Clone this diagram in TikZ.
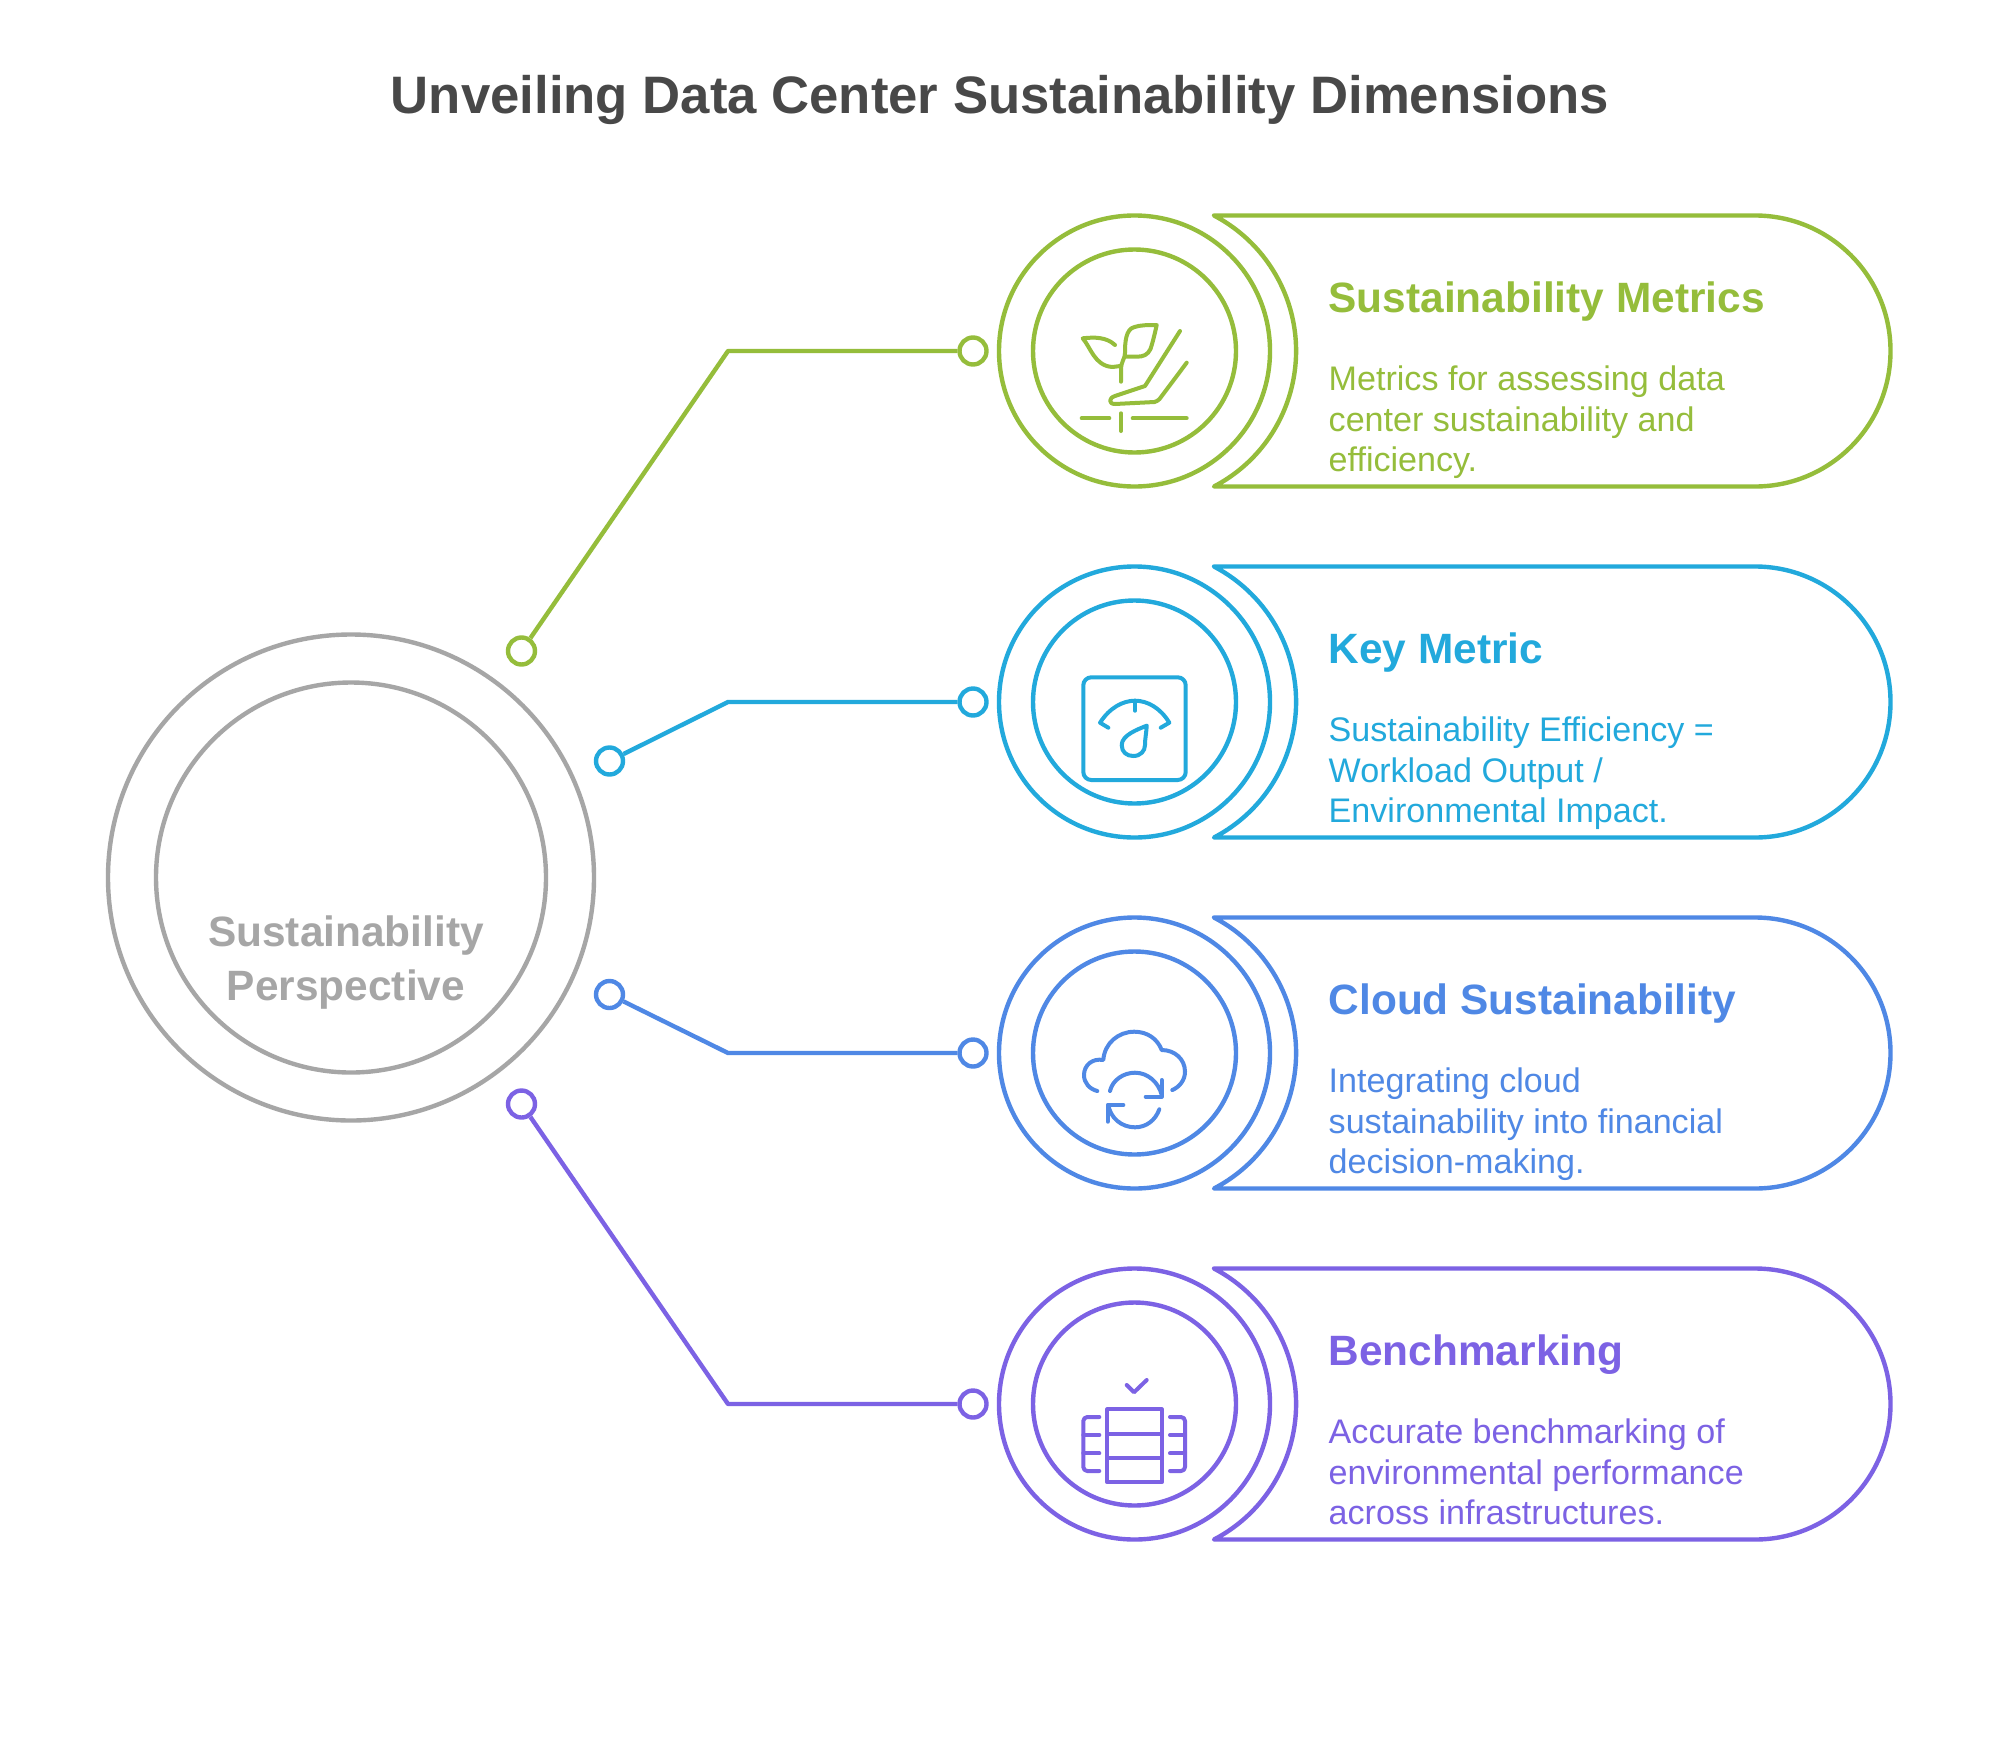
\documentclass[tikz,border=0pt]{standalone}
\usepackage{fontspec}
\setmainfont{Liberation Sans}
\definecolor{cgreen}{HTML}{95BD3B}
\definecolor{cblue}{HTML}{22A9DC}
\definecolor{cmid}{HTML}{4F88E5}
\definecolor{cpurple}{HTML}{7C62E4}
\definecolor{cgray}{HTML}{A6A6A6}
\definecolor{ctitle}{HTML}{484848}
\tikzset{
  ln/.style={line width=4.4pt,line cap=round,line join=round},
  dot/.style={circle,draw,fill=white,line width=4.4pt,minimum size=27pt,inner sep=0pt},
  outerc/.style={circle,draw,line width=4.4pt,minimum size=271pt,inner sep=0pt},
  innerc/.style={circle,draw,line width=4.4pt,minimum size=203pt,inner sep=0pt},
  head/.style={anchor=base west,inner sep=0pt,font=\fontsize{42.4}{43}\selectfont\bfseries},
  body/.style={anchor=base west,inner sep=0pt,font=\fontsize{34.1}{40}\selectfont,align=left},
  icon/.style={line width=4pt,line cap=round,line join=round}
}
\newcommand{\banner}[2]{%
  \draw[ln,#1] (1214,#2-135.5) -- (1755,#2-135.5) arc[start angle=-90,end angle=90,radius=135.5] -- (1214,#2+135.5)
     arc[start angle=62.4,end angle=-62.4,radius=152.9] -- cycle;}
\begin{document}
\begin{tikzpicture}[x=1pt,y=-1pt]
\useasboundingbox (0,0) rectangle (1999,1756);
\fill[white] (0,0) rectangle (1999,1756);
\node[anchor=base,inner sep=0pt,text=ctitle,font=\fontsize{52.7}{54}\selectfont\bfseries] (title) at (1000,113) {Unveiling Data Center Sustainability Dimensions};
% hub
\node[circle,draw=cgray,line width=4.4pt,minimum size=486pt,inner sep=0pt] (hubo) at (351,877.5) {};
\node[circle,draw=cgray,line width=4.4pt,minimum size=390pt,inner sep=0pt] (hubi) at (351,877.5) {};
\node[anchor=base,inner sep=0pt,text=cgray,font=\fontsize{42.4}{43}\selectfont\bfseries] (hub1) at (346,946) {Sustainability};
\node[anchor=base,inner sep=0pt,text=cgray,font=\fontsize{42.4}{43}\selectfont\bfseries] (hub2) at (346,1000) {Perspective};
% rows
\foreach \c/\y/\dx/\dy [count=\i] in {cgreen/351/521.5/651,cblue/702/609.5/761,cmid/1053/609.5/994.5,cpurple/1404/521.5/1104}{
  \banner{\c}{\y}
  \node[outerc,draw=\c] (o\i) at (1134.5,\y) {};
  \node[innerc,draw=\c] (n\i) at (1134.5,\y) {};
  \node[dot,draw=\c] (d\i) at (\dx,\dy) {};
  \node[dot,draw=\c] (e\i) at (973,\y) {};
  \coordinate (k\i) at (728,\y);
  \draw[ln,\c,line cap=butt] (d\i) -- (k\i) -- (e\i);
}
% texts
\node[head,text=cgreen] (h1) at (1328.5,312) {Sustainability Metrics};
\node[body,text=cgreen] (t1a) at (1328.5,390) {Metrics for assessing data};
\node[body,text=cgreen] (t1b) at (1328.5,431) {center sustainability and};
\node[body,text=cgreen] (t1c) at (1328.5,471) {efficiency.};
\node[head,text=cblue] (h2) at (1328.5,663) {Key Metric};
\node[body,text=cblue] (t2a) at (1328.5,741) {Sustainability Efficiency =};
\node[body,text=cblue] (t2b) at (1328.5,782) {Workload Output /};
\node[body,text=cblue] (t2c) at (1328.5,822) {Environmental Impact.};
\node[head,text=cmid] (h3) at (1328.5,1014) {Cloud Sustainability};
\node[body,text=cmid] (t3a) at (1328.5,1092) {Integrating cloud};
\node[body,text=cmid] (t3b) at (1328.5,1133) {sustainability into financial};
\node[body,text=cmid] (t3c) at (1328.5,1173) {decision-making.};
\node[head,text=cpurple] (h4) at (1328.5,1365) {Benchmarking};
\node[body,text=cpurple] (t4a) at (1328.5,1443) {Accurate benchmarking of};
\node[body,text=cpurple] (t4b) at (1328.5,1484) {environmental performance};
\node[body,text=cpurple] (t4c) at (1328.5,1524) {across infrastructures.};
% plant icon
\begin{scope}[shift={(1134.5,351)},icon,cgreen]
\draw (-19.5,-6) .. controls (-28,-14) and (-40,-14) .. (-51.8,-12.7) .. controls (-44,-4) and (-40,15) .. (-22,16) -- (-14,15);
\draw (-13.5,30.7) -- (-13.5,19) .. controls (-13.5,10) and (-9.5,8) .. (-9.5,2) .. controls (-9.5,-8) and (-9,-22) .. (0,-24) .. controls (6,-26) and (14,-26) .. (22.2,-26) .. controls (20,-16) and (18,-8) .. (16,-2) .. controls (13,4) and (9,5.7) .. (2,5.7) -- (-9.5,5.7);
\draw (45.5,-20) -- (10.5,35) -- (-19.5,45) .. controls (-26,47) and (-26,53) .. (-19.5,53) -- (20,51) .. controls (22,50.7) and (24,49) .. (25,48) -- (52.2,11.7);
\draw (-52.8,67.3) -- (-25.2,67.3) (-1.8,67.3) -- (52.2,67.3) (-13.5,62.3) -- (-13.5,80);
\end{scope}
% gauge icon
\begin{scope}[shift={(1134.5,702)},icon,cblue]
\draw[rounded corners=8pt] (-51.2,-24.7) rectangle (51.2,78);
\draw (-26.2,25.7) -- (-34.5,20.7) .. controls (-25,6) and (-12,-1.3) .. (.5,-1.3) .. controls (13,-1.3) and (26,6) .. (34.8,20.7) -- (26.2,25.7);
\draw (.5,-1.3) -- (.5,8.7);
\draw (12.2,23.7) .. controls (4,27) and (-12.8,33) .. (-12.8,43) .. controls (-12.8,50) and (-8,54) .. (-1.2,54) .. controls (6,54) and (10.5,49) .. (10.5,43) .. controls (10.5,36) and (12,30) .. (12.2,23.7);
\end{scope}
% cloud icon
\begin{scope}[shift={(1134.5,1053)},icon,cmid]
\draw (-37.2,38) .. controls (-45,36) and (-50.5,30) .. (-50.5,22) .. controls (-50.5,12) and (-42,5) .. (-31.2,7) .. controls (-30,-10) and (-16,-21.3) .. (-.2,-21.3) .. controls (13,-21.3) and (23,-14) .. (27.2,-3) .. controls (40,-3) and (50.5,6) .. (50.5,18.7) .. controls (50.5,27) and (45,34) .. (37.8,37);
\draw (-24.5,38) .. controls (-22,27) and (-11,19.7) .. (.5,19.7) .. controls (13,19.7) and (24,29) .. (27.2,42);
\draw (27.2,27) -- (27.2,43.7) -- (11.2,43.7);
\draw (24.8,56.3) .. controls (21,67) and (12,74.3) .. (.5,74.3) .. controls (-13,74.3) and (-24,65) .. (-26.2,52);
\draw (-11.2,52) -- (-26.8,52) -- (-26.8,68.7);
\end{scope}
% server icon
\begin{scope}[shift={(1134.5,1404)},icon,cpurple]
\draw (-7.8,-19) -- (-.5,-11.7) -- (12.2,-24);
\draw (-27.2,5.3) rectangle (27.2,78.3);
\draw (-27.2,29.7) -- (27.2,29.7) (-27.2,54.3) -- (27.2,54.3);
\draw[rounded corners=4pt] (-35.2,13) -- (-51.2,13) -- (-51.2,67) -- (-35.2,67);
\draw (-51.2,31) -- (-35.2,31) (-51.2,49.3) -- (-35.2,49.3);
\draw[rounded corners=4pt] (35.5,13) -- (50.5,13) -- (50.5,67) -- (35.5,67);
\draw (35.5,31) -- (50.5,31) (35.5,49.3) -- (50.5,49.3);
\end{scope}
\end{tikzpicture}
\end{document}
